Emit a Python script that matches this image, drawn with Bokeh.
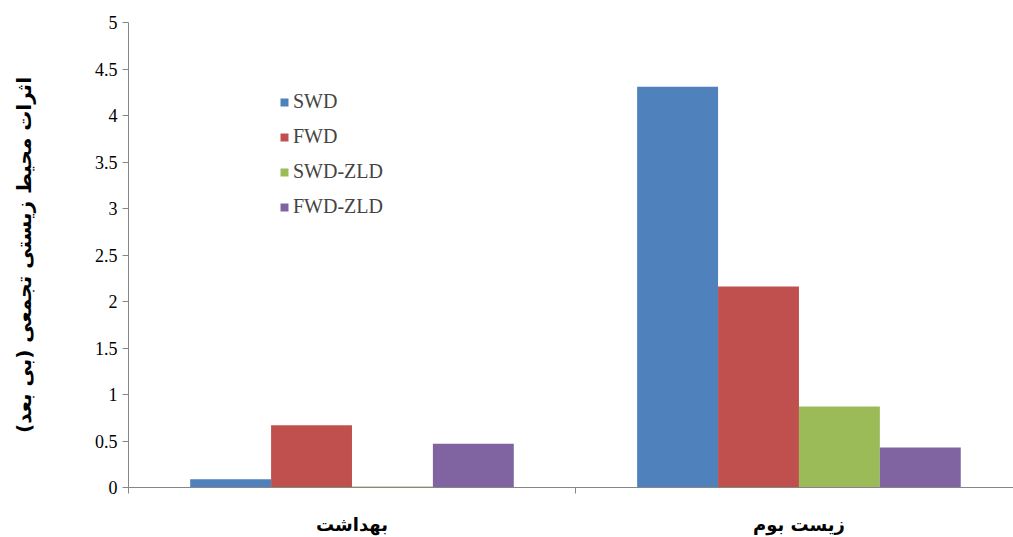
from bokeh.plotting import figure
from bokeh.models import ColumnDataSource, FixedTicker, Legend, LegendItem, Range1d
from bokeh.transform import dodge
from bokeh.embed import file_html
from bokeh.resources import INLINE

categories = ["بهداشت", "زیست بوم"]
series = ["SWD", "FWD", "SWD-ZLD", "FWD-ZLD"]
swd = [0.09, 4.31]
fwd = [0.67, 2.16]
swd_zld = [0.01, 0.87]
fwd_zld = [0.47, 0.43]
y_ticks = [0, 0.5, 1, 1.5, 2, 2.5, 3, 3.5, 4, 4.5, 5]
y_label = "اثرات محیط زیستی تجمعی (بی بعد)"

colors = ["#4F81BD", "#C0504D", "#9BBB59", "#8064A2"]

centers = [i + 0.5 for i in range(len(categories))]
src = ColumnDataSource(dict(x=centers, SWD=swd, FWD=fwd, SWD_ZLD=swd_zld, FWD_ZLD=fwd_zld))
cols = ["SWD", "FWD", "SWD_ZLD", "FWD_ZLD"]

bw = 0.181
offsets = [-1.5 * bw, -0.5 * bw, 0.5 * bw, 1.5 * bw]

p = figure(width=1013, height=537, output_backend="svg", toolbar_location=None,
           x_range=Range1d(0, 1.98), y_range=Range1d(0, 5),
           min_border_left=128, min_border_top=22, min_border_right=0, min_border_bottom=50)
p.outline_line_color = None
p.xgrid.visible = False
p.ygrid.visible = False

renderers = []
for c, col, off in zip(colors, cols, offsets):
    r = p.vbar(x=dodge("x", off, range=p.x_range), top=col, width=bw, bottom=0,
               source=src, fill_color=c, line_color=None)
    renderers.append(r)

axis_color = "#868686"
# y axis
p.yaxis.ticker = FixedTicker(ticks=y_ticks)
p.yaxis.major_label_overrides = {t: (str(int(t)) if float(t).is_integer() else str(t)) for t in y_ticks}
p.yaxis.axis_line_color = axis_color
p.yaxis.major_tick_line_color = axis_color
p.yaxis.major_tick_out = 6
p.yaxis.major_tick_in = 0
p.yaxis.minor_tick_line_color = None
p.yaxis.major_label_text_font = "Liberation Serif"
p.yaxis.major_label_text_font_size = "18px"
p.yaxis.major_label_text_color = "#000000"
p.yaxis.major_label_standoff = 5
p.yaxis.axis_label = y_label
p.yaxis.axis_label_text_font = "DejaVu Sans"
p.yaxis.axis_label_text_font_style = "bold"
p.yaxis.axis_label_text_font_size = "20px"
p.yaxis.axis_label_text_color = "#000000"
p.yaxis.axis_label_standoff = 56

# x axis
p.xaxis.ticker = FixedTicker(ticks=centers, minor_ticks=[0, 1, 2])
p.xaxis.major_label_overrides = {c: name for c, name in zip(centers, categories)}
p.xaxis.axis_line_color = axis_color
p.xaxis.major_tick_line_color = None
p.xaxis.major_tick_out = 0
p.xaxis.major_tick_in = 0
p.xaxis.minor_tick_line_color = axis_color
p.xaxis.minor_tick_out = 6
p.xaxis.minor_tick_in = 0
p.xaxis.major_label_text_font = "DejaVu Sans"
p.xaxis.major_label_text_font_style = "bold"
p.xaxis.major_label_text_font_size = "18px"
p.xaxis.major_label_text_color = "#000000"
p.xaxis.major_label_standoff = 20

legend = Legend(items=[LegendItem(label=s, renderers=[r]) for s, r in zip(series, renderers)],
                location=(151, 269), orientation="vertical",
                glyph_width=10, glyph_height=10, label_height=20, spacing=12,
                padding=0, margin=0, border_line_color=None, background_fill_alpha=0,
                label_text_font="Liberation Serif", label_text_font_size="20px",
                label_standoff=4)
p.add_layout(legend)

open("out.html", "w").write(file_html(p, INLINE))
